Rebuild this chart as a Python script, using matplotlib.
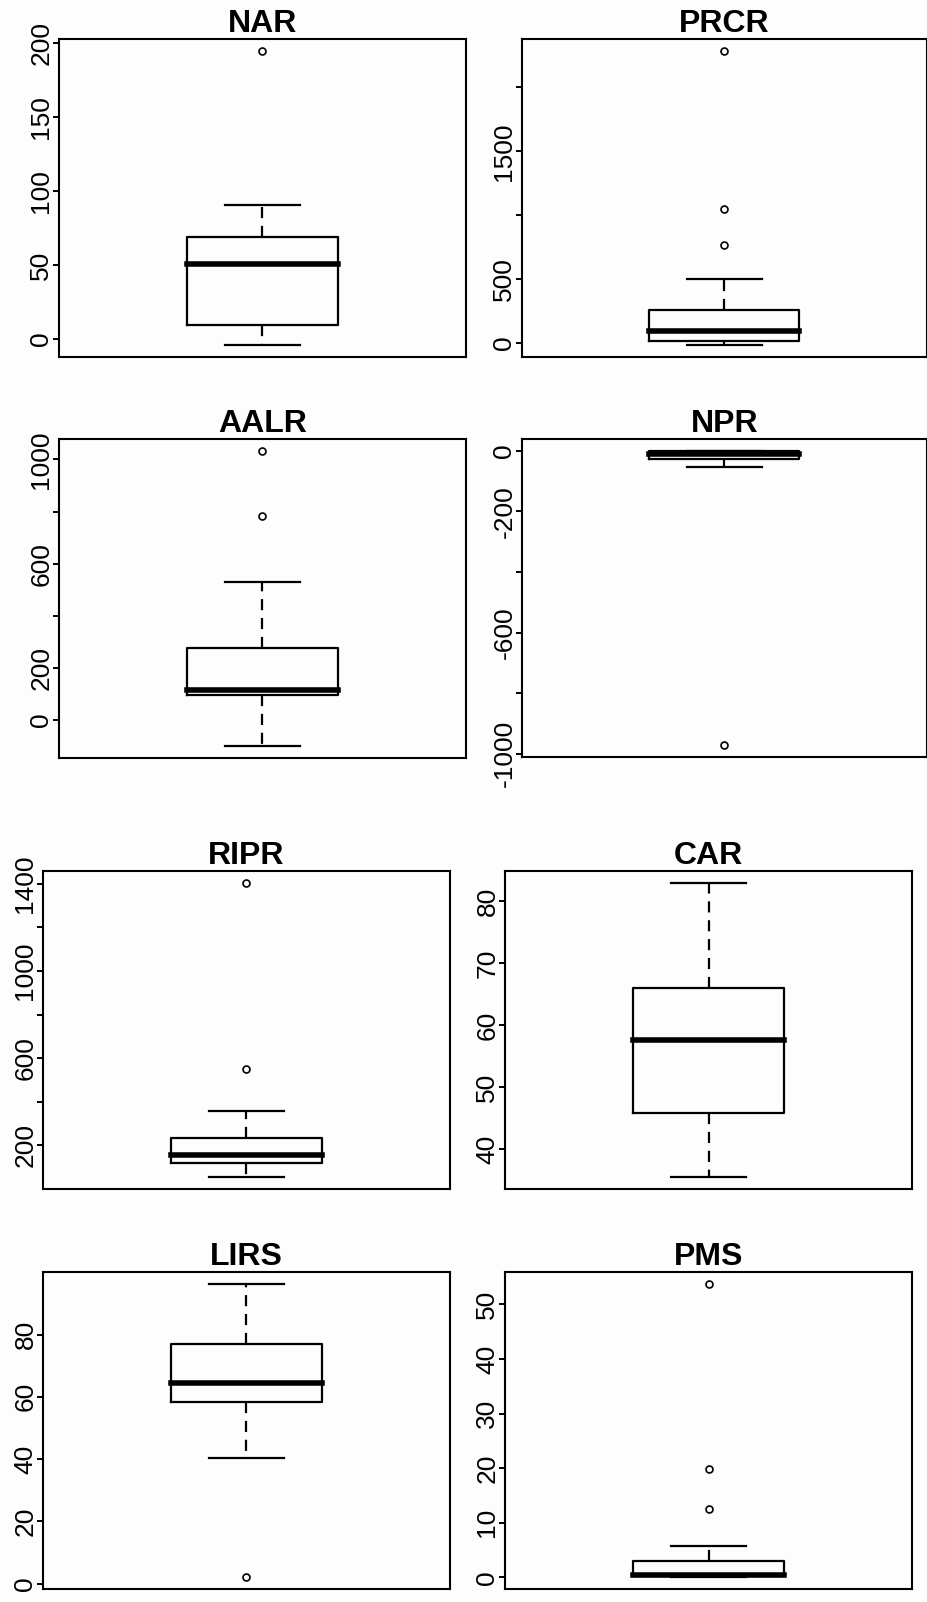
import matplotlib
matplotlib.use('Agg')
import matplotlib.pyplot as plt

names = ['NAR', 'PRCR', 'AALR', 'NPR', 'RIPR', 'CAR', 'LIRS', 'PMS']
whislo = [-4.3, -18, -101, -54, 54, 35.5, 40.3, 0.0]
q1 = [9.4, 13, 95, -27, 119, 45.8, 58.2, 0.2]
med = [51, 91, 113, -9, 156, 57.7, 64.6, 0.5]
q3 = [68.8, 261, 277, -1, 235, 66.1, 76.9, 2.9]
whishi = [90.5, 498, 529, 0, 356, 83, 96.3, 5.8]
fliers = [[195], [2287, 1050, 769], [1033, 781], [-972], [1405, 551], [],
          [2.1], [53.8, 19.9, 12.6]]

yticks = [[0, 50, 100, 150, 200],
          [0, 500, 1000, 1500, 2000],
          [0, 200, 400, 600, 800, 1000],
          [0, -200, -400, -600, -800, -1000],
          [200, 400, 600, 800, 1000, 1200, 1400],
          [40, 50, 60, 70, 80],
          [0, 20, 40, 60, 80],
          [0, 10, 20, 30, 40, 50]]
# R drops labels that would overlap
ylabels = [['0', '50', '100', '150', '200'],
           ['0', '500', '', '1500', ''],
           ['0', '200', '', '600', '', '1000'],
           ['0', '-200', '', '-600', '', '-1000'],
           ['200', '', '600', '', '1000', '', '1400'],
           ['40', '50', '60', '70', '80'],
           ['0', '20', '40', '60', '80'],
           ['0', '10', '20', '30', '40', '50']]

W, H = 928, 1602
# axes boxes in pixels: left, right, top, bottom
boxes = [(59, 466, 39, 357), (522, 927, 39, 357),
         (59, 466, 439, 758), (522, 927, 439, 757),
         (43, 450, 871, 1189), (505, 912, 871, 1189),
         (43, 450, 1272, 1589), (505, 912, 1272, 1589)]

tick_font = ['Liberation Sans Narrow', 'DejaVu Sans Condensed', 'Liberation Sans']

fig = plt.figure(figsize=(W / 100, H / 100), dpi=100)
fig.patch.set_facecolor('#fdfdfd')

for i, name in enumerate(names):
    l, r, t, b = boxes[i]
    ax = fig.add_axes([l / W, 1 - b / H, (r - l) / W, (b - t) / H])
    ax.set_facecolor('#fdfdfd')
    st = dict(med=med[i], q1=q1[i], q3=q3[i], whislo=whislo[i],
              whishi=whishi[i], fliers=fliers[i])
    ax.bxp([st], positions=[1], widths=0.4, capwidths=0.2,
           manage_ticks=False,
           boxprops=dict(color='black', linewidth=1.6),
           whiskerprops=dict(color='black', linewidth=1.6, linestyle=(0, (5, 3.5))),
           capprops=dict(color='black', linewidth=1.6),
           medianprops=dict(color='black', linewidth=4, solid_capstyle='projecting'),
           flierprops=dict(marker='o', markerfacecolor='none', markeredgecolor='black',
                           markersize=5, markeredgewidth=1.2))
    lo = min([whislo[i]] + fliers[i])
    hi = max([whishi[i]] + fliers[i])
    ext = (hi - lo) * 0.04
    ax.set_ylim(lo - ext, hi + ext)
    ax.set_xlim(0.46, 1.54)
    ax.set_xticks([])
    ax.set_yticks(yticks[i])
    ax.set_yticklabels(ylabels[i], rotation=90, va='center',
                       family=tick_font, fontsize=19)
    ax.tick_params(axis='y', length=4, width=1.4, pad=0)
    for s in ax.spines.values():
        s.set_linewidth(1.5)
    ax.set_title(name, fontsize=23, fontweight='bold', family='Liberation Sans', pad=3.5)

plt.savefig('out.png', dpi=100, facecolor=fig.get_facecolor())
